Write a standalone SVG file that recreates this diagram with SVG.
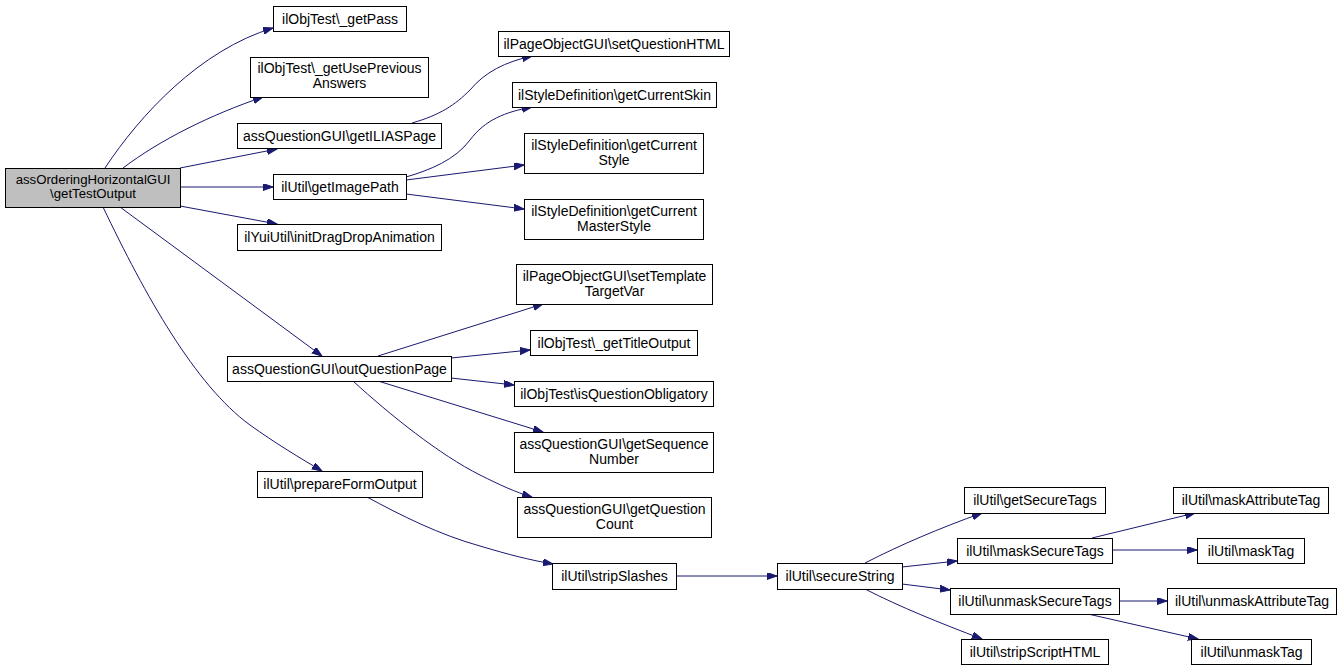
<svg xmlns="http://www.w3.org/2000/svg" width="1341" height="671" viewBox="0 0 1341 671">
<style>
.n rect{fill:#fff;stroke:#000;stroke-width:1}
.n.m rect{fill:#bfbfbf}
.n text{font-family:"Liberation Sans",Arial,sans-serif;font-size:14px;text-anchor:middle;fill:#000}
.n.m text{font-size:13.2px}
.e path{fill:none;stroke:#191970;stroke-width:1;marker-end:url(#a)}
</style>
<defs>
<marker id="a" markerUnits="userSpaceOnUse" markerWidth="12" markerHeight="10" refX="10" refY="3.5" orient="auto" viewBox="0 0 12 10">
<path d="M0,0 L10,3.5 L0,7 Z" fill="#191970" stroke="#191970"/>
</marker>
</defs>
<rect width="1341" height="671" fill="#fff"/>
<g id="edges" class="e">
<path d="M105,168 C140,115 200,50 273,28"/>
<path d="M123,168 C160,140 210,115 263,97"/>
<path d="M180,168 L277,149"/>
<path d="M180,187 L273,187"/>
<path d="M180,206 L277,224"/>
<path d="M120,207 L322,356"/>
<path d="M103,207 C145,295 195,385 250,425 C275,443 300,458 322,471"/>
<path d="M412,123 C440,115 455,105 470,90 C485,72 505,62 532,56"/>
<path d="M406,177 C430,170 455,160 470,140 C485,120 505,112 532,107"/>
<path d="M406,180 L524,165"/>
<path d="M406,194 L524,209"/>
<path d="M378,356 L543,304"/>
<path d="M451,358 L530,350"/>
<path d="M451,378 L514,385"/>
<path d="M378,381 L543,432"/>
<path d="M353,381 C390,415 440,455 480,475 C500,485 515,492 532,497"/>
<path d="M367,497 C400,515 440,535 480,546 C510,555 530,560 553,564"/>
<path d="M676,576 L777,576"/>
<path d="M865,563 C900,545 940,528 982,513"/>
<path d="M902,567 L957,561"/>
<path d="M902,584 L950,590"/>
<path d="M865,589 C900,607 940,623 982,639"/>
<path d="M1092,538 L1195,513"/>
<path d="M1112,550 L1197,550"/>
<path d="M1119,601 L1167,601"/>
<path d="M1088,614 L1198,639"/>
</g>
<g id="n_main" class="n m"><rect x="5.5" y="168.5" width="175" height="39"/><text x="93" y="184">assOrderingHorizontalGUI</text><text x="93" y="198">\getTestOutput</text></g>
<g id="n_getPass" class="n"><rect x="273.5" y="6.5" width="133" height="25"/><text x="340" y="23.5">ilObjTest\_getPass</text></g>
<g id="n_getUsePrev" class="n"><rect x="250.5" y="57.5" width="178" height="40"/><text x="339.5" y="72.5">ilObjTest\_getUsePrevious</text><text x="339.5" y="87.5">Answers</text></g>
<g id="n_getILIASPage" class="n"><rect x="237.5" y="123.5" width="204" height="25"/><text x="339.5" y="140.5">assQuestionGUI\getILIASPage</text></g>
<g id="n_getImagePath" class="n"><rect x="273.5" y="174.5" width="133" height="25"/><text x="340" y="191.5">ilUtil\getImagePath</text></g>
<g id="n_initDragDrop" class="n"><rect x="237.5" y="224.5" width="204" height="26"/><text x="339.5" y="242">ilYuiUtil\initDragDropAnimation</text></g>
<g id="n_setQuestionHTML" class="n"><rect x="498.5" y="31.5" width="231" height="25"/><text x="614" y="48.5">ilPageObjectGUI\setQuestionHTML</text></g>
<g id="n_getCurrentSkin" class="n"><rect x="512.5" y="82.5" width="204" height="25"/><text x="614.5" y="99.5">ilStyleDefinition\getCurrentSkin</text></g>
<g id="n_getCurrentStyle" class="n"><rect x="524.5" y="133.5" width="179" height="40"/><text x="614" y="149.5">ilStyleDefinition\getCurrent</text><text x="614" y="164.5">Style</text></g>
<g id="n_getCurrentMasterStyle" class="n"><rect x="524.5" y="199.5" width="179" height="40"/><text x="614" y="215.5">ilStyleDefinition\getCurrent</text><text x="614" y="230.5">MasterStyle</text></g>
<g id="n_setTemplateTargetVar" class="n"><rect x="516.5" y="264.5" width="196" height="40"/><text x="614.5" y="280.5">ilPageObjectGUI\setTemplate</text><text x="614.5" y="295.5">TargetVar</text></g>
<g id="n_getTitleOutput" class="n"><rect x="530.5" y="330.5" width="167" height="25"/><text x="614" y="347.5">ilObjTest\_getTitleOutput</text></g>
<g id="n_isQuestionObligatory" class="n"><rect x="514.5" y="381.5" width="199" height="25"/><text x="614" y="398.5">ilObjTest\isQuestionObligatory</text></g>
<g id="n_getSequenceNumber" class="n"><rect x="514.5" y="432.5" width="199" height="40"/><text x="614" y="448.5">assQuestionGUI\getSequence</text><text x="614" y="463.5">Number</text></g>
<g id="n_getQuestionCount" class="n"><rect x="517.5" y="497.5" width="194" height="40"/><text x="614.5" y="513.5">assQuestionGUI\getQuestion</text><text x="614.5" y="528.5">Count</text></g>
<g id="n_outQuestionPage" class="n"><rect x="227.5" y="356.5" width="224" height="25"/><text x="339.5" y="373.5">assQuestionGUI\outQuestionPage</text></g>
<g id="n_prepareFormOutput" class="n"><rect x="257.5" y="471.5" width="165" height="26"/><text x="340" y="489">ilUtil\prepareFormOutput</text></g>
<g id="n_stripSlashes" class="n"><rect x="552.5" y="563.5" width="124" height="26"/><text x="614.5" y="581">ilUtil\stripSlashes</text></g>
<g id="n_secureString" class="n"><rect x="777.5" y="563.5" width="125" height="26"/><text x="840" y="581">ilUtil\secureString</text></g>
<g id="n_getSecureTags" class="n"><rect x="964.5" y="487.5" width="141" height="26"/><text x="1035" y="505">ilUtil\getSecureTags</text></g>
<g id="n_maskSecureTags" class="n"><rect x="957.5" y="538.5" width="155" height="25"/><text x="1035" y="555.5">ilUtil\maskSecureTags</text></g>
<g id="n_unmaskSecureTags" class="n"><rect x="950.5" y="588.5" width="169" height="26"/><text x="1035" y="606">ilUtil\unmaskSecureTags</text></g>
<g id="n_stripScriptHTML" class="n"><rect x="961.5" y="639.5" width="147" height="25"/><text x="1035" y="656.5">ilUtil\stripScriptHTML</text></g>
<g id="n_maskAttributeTag" class="n"><rect x="1173.5" y="487.5" width="155" height="26"/><text x="1251" y="505">ilUtil\maskAttributeTag</text></g>
<g id="n_maskTag" class="n"><rect x="1197.5" y="538.5" width="107" height="25"/><text x="1251" y="555.5">ilUtil\maskTag</text></g>
<g id="n_unmaskAttributeTag" class="n"><rect x="1167.5" y="588.5" width="169" height="26"/><text x="1252" y="606">ilUtil\unmaskAttributeTag</text></g>
<g id="n_unmaskTag" class="n"><rect x="1191.5" y="639.5" width="120" height="25"/><text x="1251.5" y="656.5">ilUtil\unmaskTag</text></g>
</svg>
